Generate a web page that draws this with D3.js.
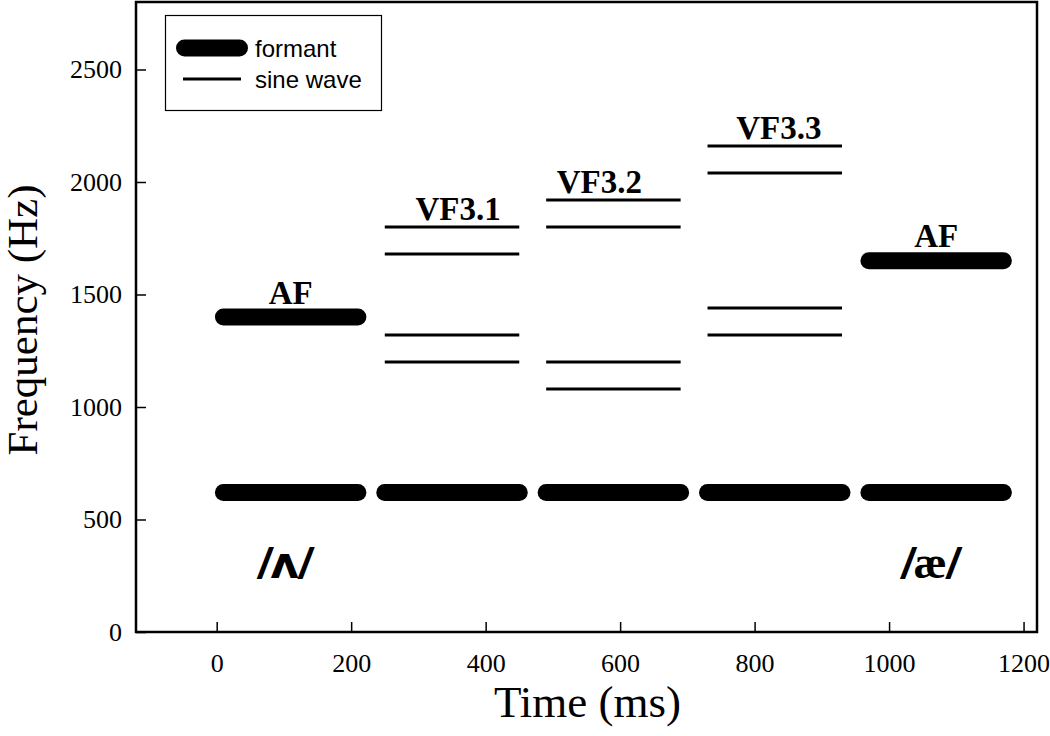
<!DOCTYPE html>
<html>
<head>
<meta charset="utf-8">
<script src="https://cdn.jsdelivr.net/npm/d3@7"></script>
<style>
  html, body { margin: 0; padding: 0; background: #fff; }
  svg { display: block; }
</style>
</head>
<body>
<svg id="chart" width="1050" height="736"></svg>
<script>
// ---- data ----
const segNames   = ["AF", "VF3.1", "VF3.2", "VF3.3", "AF"];
const segStarts  = [10, 250, 490, 730, 970];      // ms
const segDur     = 200;                            // ms
const formantF1  = [620, 620, 620, 620, 620];      // Hz (thick)
const formantF2  = [1400, null, null, null, 1650]; // Hz (thick)
const sineWaves  = [[], [1200, 1320, 1680, 1800], [1080, 1200, 1800, 1920], [1320, 1440, 2040, 2160], []];
const vowelLabels = [{seg: 0, slash: "/", ipa: "ʌ", ipaFont: "DejaVu Sans"}, {seg: 4, slash: "/", ipa: "æ", ipaFont: "Liberation Serif"}];
const xTicks = [0, 200, 400, 600, 800, 1000, 1200];
const yTicks = [0, 500, 1000, 1500, 2000, 2500];
const legendItems = ["formant", "sine wave"];

// ---- layout ----
const L = 136, R = 1037, T = 2, B = 632;
const svg = d3.select("#chart");
const x = d3.scaleLinear().domain([-120, 1220]).range([L, R]);
const y = d3.scaleLinear().domain([0, 2800]).range([B, T]);
const serif = "'Liberation Serif', 'Times New Roman', serif";
const sans = "'Liberation Sans', Arial, sans-serif";
const THICK = 17, THIN = 3;

// frame
svg.append("rect").attr("x", L).attr("y", T).attr("width", R - L).attr("height", B - T)
  .attr("fill", "none").attr("stroke", "#000").attr("stroke-width", 2.5);

// axes (ticks inside)
const fmt = d3.format("d");
const xAxis = d3.axisBottom(x).tickValues(xTicks).tickFormat(fmt).tickSizeInner(-10).tickSizeOuter(0).tickPadding(22);
const gx = svg.append("g").attr("transform", `translate(0,${B})`).call(xAxis);
const yAxis = d3.axisLeft(y).tickValues(yTicks).tickFormat(fmt).tickSizeInner(-10).tickSizeOuter(0).tickPadding(14);
const gy = svg.append("g").attr("transform", `translate(${L},0)`).call(yAxis);
[gx, gy].forEach(g => {
  g.select(".domain").remove();
  g.selectAll(".tick line").attr("stroke", "#000").attr("stroke-width", 1.5);
  g.selectAll(".tick text").attr("fill", "#000").attr("font-family", serif).attr("font-size", 26);
});
gx.selectAll(".tick text").attr("dy", "0.71em");

// axis titles
svg.append("text").attr("x", (L + R) / 2 + 1).attr("y", 717).attr("text-anchor", "middle")
  .attr("font-family", serif).attr("font-size", 45).text("Time (ms)");
svg.append("text").attr("transform", `translate(37,320) rotate(-90)`).attr("text-anchor", "middle")
  .attr("font-family", serif).attr("font-size", 43).text("Frequency (Hz)");

// segments
const segs = segStarts.map((s, i) => ({i, s, e: s + segDur, name: segNames[i], f1: formantF1[i], f2: formantF2[i], sines: sineWaves[i]}));
const plot = svg.append("g");

// thick formant bars
const thick = [];
segs.forEach(d => { if (d.f1 != null) thick.push({s: d.s, e: d.e, f: d.f1}); if (d.f2 != null) thick.push({s: d.s, e: d.e, f: d.f2}); });
plot.selectAll("line.formant").data(thick).join("line").attr("class", "formant")
  .attr("x1", d => x(d.s)).attr("x2", d => x(d.e))
  .attr("y1", d => y(d.f)).attr("y2", d => y(d.f))
  .attr("stroke", "#000").attr("stroke-width", THICK).attr("stroke-linecap", "round");

// thin sine lines
const thin = [];
segs.forEach(d => d.sines.forEach(f => thin.push({s: d.s, e: d.e, f})));
plot.selectAll("line.sine").data(thin).join("line").attr("class", "sine")
  .attr("x1", d => x(d.s)).attr("x2", d => x(d.e))
  .attr("y1", d => y(d.f)).attr("y2", d => y(d.f))
  .attr("stroke", "#000").attr("stroke-width", THIN);

// segment labels
const labelDx = [0, 6, -14, 4, 0];
plot.selectAll("text.seg").data(segs).join("text").attr("class", "seg")
  .attr("x", d => x((d.s + d.e) / 2) + labelDx[d.i])
  .attr("y", d => {
    const topF = Math.max(d.f2 || 0, ...(d.sines.length ? d.sines : [0]));
    return d.f2 != null && !d.sines.length ? y(topF) - THICK / 2 - 5 : y(topF) - 7.5;
  })
  .attr("text-anchor", "middle").attr("font-family", serif).attr("font-weight", "bold")
  .attr("font-size", 33).text(d => d.name);

// vowel labels
const vl = plot.selectAll("text.vowel").data(vowelLabels).join("text").attr("class", "vowel")
  .attr("x", d => x((segs[d.seg].s + segs[d.seg].e) / 2) - 6)
  .attr("y", d => y(segs[d.seg].f1) + 85)
  .attr("text-anchor", "middle").attr("font-family", sans).attr("font-weight", "bold")
  .attr("font-size", 43);
vl.append("tspan").attr("font-style", "italic").text(d => d.slash);
vl.append("tspan").attr("font-family", d => d.ipaFont).attr("font-size", d => d.ipa === "ʌ" ? 44 : 46).text(d => d.ipa);
vl.append("tspan").attr("font-style", "italic").text(d => d.slash);

// legend
const lg = svg.append("g");
lg.append("rect").attr("x", 165.5).attr("y", 15.5).attr("width", 216).attr("height", 95)
  .attr("fill", "#fff").attr("stroke", "#000").attr("stroke-width", 1.2);
lg.append("line").attr("x1", 184.5).attr("x2", 239.5).attr("y1", 48).attr("y2", 48)
  .attr("stroke", "#000").attr("stroke-width", THICK).attr("stroke-linecap", "round");
lg.append("line").attr("x1", 183).attr("x2", 241).attr("y1", 79).attr("y2", 79)
  .attr("stroke", "#000").attr("stroke-width", THIN);
lg.selectAll("text").data(legendItems).join("text")
  .attr("x", 255).attr("y", (d, i) => 57 + i * 31)
  .attr("font-family", sans).attr("font-size", 24).text(d => d);
</script>
</body>
</html>
